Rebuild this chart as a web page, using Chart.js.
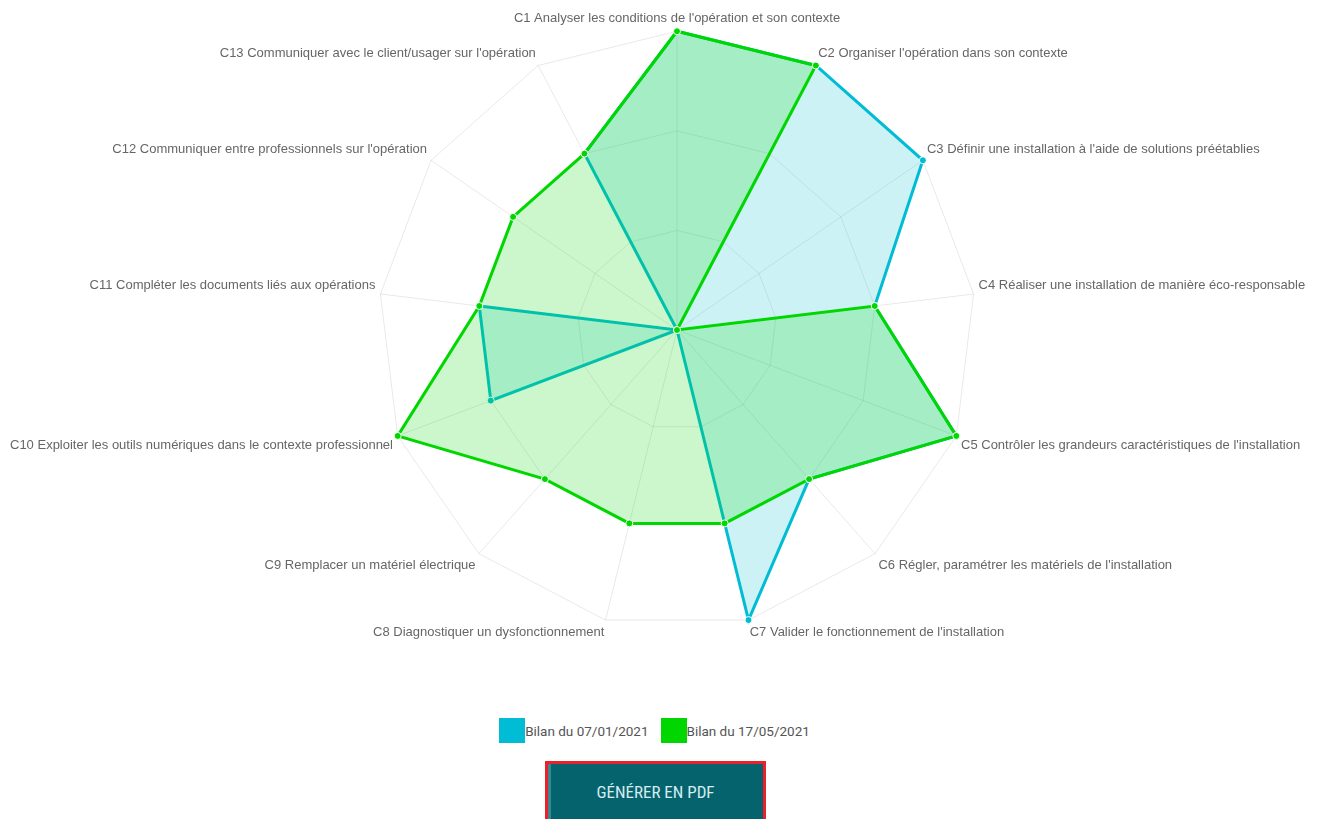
<!DOCTYPE html>
<html lang="fr">
<head>
<meta charset="utf-8">
<title>Bilan des compétences</title>
<script src="https://cdn.jsdelivr.net/npm/chart.js@4.4.0/dist/chart.umd.min.js"></script>
<style>
  html, body { margin: 0; padding: 0; background: #fff; overflow: hidden; }
  body { width: 1317px; height: 819px; position: relative; }
  #radar-wrap { position: absolute; top: 0; left: -3px; width: 1334px; height: 652px; }
  #legend { position: absolute; top: 718px; left: -4px; width: 1317px; text-align: center;
            font-family: Roboto, "Open Sans", sans-serif; font-size: 13.5px; color: #555; }
  #legend span.item { display: inline-block; margin: 0 6px; vertical-align: middle; }
  #legend span.box { display: inline-block; width: 26px; height: 25px; vertical-align: middle; }
  #legend span.txt { vertical-align: middle; }
  #pdfButton { position: absolute; left: 545px; top: 761px; width: 221px; height: 62px; box-sizing: border-box;
               border: 3px solid #e8212b; background: #05636e; color: #d6ecee;
               font-family: "Liberation Sans Narrow", "Roboto Condensed", Arial, sans-serif; font-size: 17px;
               padding: 0; box-shadow: inset 3px 0 0 #3c8891; }
</style>
</head>
<body>

<div id="radar-wrap"><canvas id="competences-radar"></canvas></div>
<div id="legend"></div>
<button id="pdfButton">GÉNÉRER EN PDF</button>

<script>
// competences (axes of the radar)
const labelCompetences = [
    "C1 Analyser les conditions de l'opération et son contexte",
    "C2 Organiser l'opération dans son contexte",
    "C3 Définir une installation à l'aide de solutions préétablies",
    "C4 Réaliser une installation de manière éco-responsable",
    "C5 Contrôler les grandeurs caractéristiques de l'installation",
    "C6 Régler, paramétrer les matériels de l'installation",
    "C7 Valider le fonctionnement de l'installation",
    "C8 Diagnostiquer un dysfonctionnement",
    "C9 Remplacer un matériel électrique",
    "C10 Exploiter les outils numériques dans le contexte professionnel",
    "C11 Compléter les documents liés aux opérations",
    "C12 Communiquer entre professionnels sur l'opération",
    "C13 Communiquer avec le client/usager sur l'opération",
]

// level reached for each competence (0 to 3)
const bilanJanvier = [3, 3, 3, 2, 3, 2, 3, 0, 0, 2, 2, 0, 2]
const bilanMai = [3, 3, 0, 2, 3, 2, 2, 2, 2, 3, 2, 2, 2]

const seriesNames = ["Bilan du 07/01/2021", "Bilan du 17/05/2021"]
const levelTicks = [0, 1, 2, 3]

const blue = "rgb(0, 188, 212)"
const green = "rgb(0, 214, 0)"

const radarData = {
    labels: labelCompetences,
    datasets: [
        {
            label: seriesNames[0],
            data: bilanJanvier,
            order: 1,
            borderWidth: 3,
            borderColor: blue,
            backgroundColor: "rgba(0, 188, 212, 0.2)",
            pointBackgroundColor: blue,
            pointBorderColor: "#fff",
            pointBorderWidth: 1,
            pointRadius: 3.5
        },
        {
            label: seriesNames[1],
            data: bilanMai,
            order: 0,
            borderWidth: 3,
            borderColor: green,
            backgroundColor: "rgba(0, 214, 0, 0.2)",
            pointBackgroundColor: green,
            pointBorderColor: "#fff",
            pointBorderWidth: 1,
            pointRadius: 3.5
        }
    ]
}

const radar = new Chart("competences-radar", {
    type: "radar",
    data: radarData,
    options: {
        maintainAspectRatio: false,
        animation: false,
        elements: { line: { tension: 0 } },
        plugins: {
            legend: { display: false },
            tooltip: { enabled: false }
        },
        scales: {
            r: {
                min: levelTicks[0],
                max: levelTicks[levelTicks.length - 1],
                ticks: { stepSize: 1, display: false },
                grid: { color: "rgba(0, 0, 0, 0.09)" },
                angleLines: { color: "rgba(0, 0, 0, 0.09)" },
                pointLabels: {
                    color: "#666",
                    font: { family: "'Liberation Sans', Arial, sans-serif", size: 13 }
                }
            }
        }
    }
});

// html legend, box right against the text like the original page
const legendDiv = document.getElementById("legend");
radar.data.datasets.forEach(function(ds) {
    const item = document.createElement("span");
    item.className = "item";
    item.innerHTML = '<span class="box" style="background:' + ds.borderColor + '"></span><span class="txt">' + ds.label + '</span>';
    legendDiv.appendChild(item);
});
</script>
</body>
</html>
